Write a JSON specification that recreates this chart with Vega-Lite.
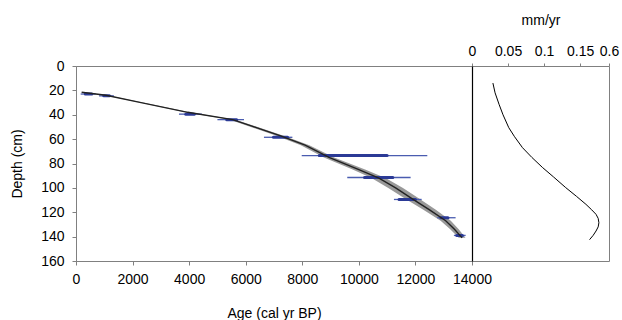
{
  "$schema": "https://vega.github.io/schema/vega-lite/v6.json",
  "padding": {"left": 10, "top": 12, "right": 12, "bottom": 0},
  "spacing": 0,
  "bounds": "flush",
  "datasets": {
    "dates": [
      {"depth": 23, "lo": 165, "hi": 695, "ilo": 330, "ihi": 560},
      {"depth": 24.5, "lo": 815, "hi": 1340, "ilo": 980, "ihi": 1180},
      {"depth": 39.5, "lo": 3640, "hi": 4450, "ilo": 3880, "ihi": 4180},
      {"depth": 44, "lo": 5000, "hi": 5940, "ilo": 5330, "ihi": 5680},
      {"depth": 58.5, "lo": 6645, "hi": 7650, "ilo": 6980, "ihi": 7480},
      {"depth": 73.5, "lo": 7980, "hi": 12420, "ilo": 8600, "ihi": 11000},
      {"depth": 91.5, "lo": 9590, "hi": 11830, "ilo": 10200, "ihi": 11200},
      {"depth": 109.5, "lo": 11240, "hi": 12220, "ilo": 11420, "ihi": 12000},
      {"depth": 124.5, "lo": 12770, "hi": 13420, "ilo": 12900, "ihi": 13150},
      {"depth": 139, "lo": 13360, "hi": 13775, "ilo": 13460, "ihi": 13660}
    ],
    "model": [
      {"depth": 21.5, "age": 200, "lo": 160, "hi": 240},
      {"depth": 24, "age": 1060, "lo": 1010, "hi": 1110},
      {"depth": 30, "age": 2300, "lo": 2240, "hi": 2360},
      {"depth": 38, "age": 3950, "lo": 3870, "hi": 4030},
      {"depth": 44, "age": 5540, "lo": 5440, "hi": 5640},
      {"depth": 50, "age": 6300, "lo": 6180, "hi": 6420},
      {"depth": 57.4, "age": 7235, "lo": 7105, "hi": 7365},
      {"depth": 65, "age": 8100, "lo": 7950, "hi": 8250},
      {"depth": 75, "age": 8945, "lo": 8765, "hi": 9125},
      {"depth": 85, "age": 10000, "lo": 9780, "hi": 10220},
      {"depth": 92, "age": 10710, "lo": 10460, "hi": 10960},
      {"depth": 100, "age": 11300, "lo": 11040, "hi": 11560},
      {"depth": 109, "age": 11890, "lo": 11640, "hi": 12140},
      {"depth": 118, "age": 12500, "lo": 12280, "hi": 12720},
      {"depth": 127, "age": 13070, "lo": 12890, "hi": 13250},
      {"depth": 134, "age": 13380, "lo": 13230, "hi": 13530},
      {"depth": 141, "age": 13650, "lo": 13530, "hi": 13770}
    ],
    "rate": [
      {"depth": 14, "rate": 0.029},
      {"depth": 22, "rate": 0.032},
      {"depth": 31.4, "rate": 0.0375},
      {"depth": 40, "rate": 0.043},
      {"depth": 50.6, "rate": 0.051},
      {"depth": 58, "rate": 0.059},
      {"depth": 67, "rate": 0.070},
      {"depth": 75, "rate": 0.083},
      {"depth": 83.4, "rate": 0.098},
      {"depth": 91, "rate": 0.113},
      {"depth": 99.8, "rate": 0.130},
      {"depth": 107, "rate": 0.145},
      {"depth": 113.5, "rate": 0.158},
      {"depth": 118, "rate": 0.166},
      {"depth": 121.7, "rate": 0.172},
      {"depth": 125, "rate": 0.175},
      {"depth": 128.6, "rate": 0.176},
      {"depth": 132, "rate": 0.175},
      {"depth": 135.4, "rate": 0.172},
      {"depth": 139, "rate": 0.168},
      {"depth": 142.5, "rate": 0.163}
    ]
  },
  "resolve": {"scale": {"x": "independent", "y": "independent"}},
  "hconcat": [
    {
      "width": 396,
      "height": 195,
      "encoding": {
        "y": {
          "field": "depth", "type": "quantitative",
          "scale": {"domain": [0, 160], "reverse": true, "nice": false, "zero": false},
          "axis": {"values": [0, 20, 40, 60, 80, 100, 120, 140, 160], "title": "Depth (cm)", "tickSize": 4, "labelPadding": 8, "titlePadding": 16}
        }
      },
      "layer": [
        {
          "data": {"name": "model"},
          "mark": {"type": "area", "color": "#999999", "opacity": 1},
          "encoding": {
            "x": {"field": "lo", "type": "quantitative", "scale": {"domain": [0, 14000], "nice": false},
              "axis": {"values": [0, 2000, 4000, 6000, 8000, 10000, 12000, 14000], "format": "d", "title": "Age (cal yr BP)", "labelFlush": false, "tickSize": 4, "labelPadding": 7, "titlePadding": 20}},
            "x2": {"field": "hi"}
          }
        },
        {
          "data": {"name": "dates"},
          "mark": {"type": "rule", "color": "#4a5cb0", "strokeWidth": 1.3},
          "encoding": {
            "x": {"field": "lo", "type": "quantitative"},
            "x2": {"field": "hi"}
          }
        },
        {
          "data": {"name": "dates"},
          "mark": {"type": "rule", "color": "#2b3a96", "strokeWidth": 3, "strokeCap": "round"},
          "encoding": {
            "x": {"field": "ilo", "type": "quantitative"},
            "x2": {"field": "ihi"}
          }
        },
        {
          "data": {"name": "model"},
          "mark": {"type": "line", "color": "#222222", "strokeWidth": 1.4},
          "encoding": {
            "x": {"field": "age", "type": "quantitative"},
            "order": {"field": "depth"}
          }
        }
      ]
    },
    {
      "width": 137,
      "height": 195,
      "data": {"name": "rate"},
      "mark": {"type": "line", "color": "#000000", "strokeWidth": 1},
      "encoding": {
        "x": {
          "field": "rate", "type": "quantitative",
          "scale": {"domain": [0, 0.19], "nice": false},
          "axis": {"orient": "top", "values": [0, 0.05, 0.1, 0.15, 0.19], "labelExpr": "datum.value == 0.19 ? '0.6' : '' + datum.value", "labelFlush": false, "title": "mm/yr", "tickSize": 3, "labelPadding": 5, "titlePadding": 17, "domain": false}
        },
        "y": {
          "field": "depth", "type": "quantitative",
          "scale": {"domain": [0, 160], "reverse": true, "nice": false, "zero": false},
          "axis": {"labels": false, "ticks": false, "title": null, "domainColor": "#000000", "domainWidth": 1.2}
        },
        "order": {"field": "depth"}
      }
    }
  ],
  "config": {
    "font": "Liberation Sans",
    "view": {"stroke": "#808080", "strokeWidth": 1},
    "axis": {
      "grid": false,
      "labelFont": "Liberation Sans",
      "labelFontSize": 14,
      "labelColor": "#000000",
      "titleFont": "Liberation Sans",
      "titleFontSize": 14,
      "titleFontWeight": "normal",
      "titleColor": "#000000",
      "domainColor": "#808080",
      "tickColor": "#808080"
    }
  }
}
